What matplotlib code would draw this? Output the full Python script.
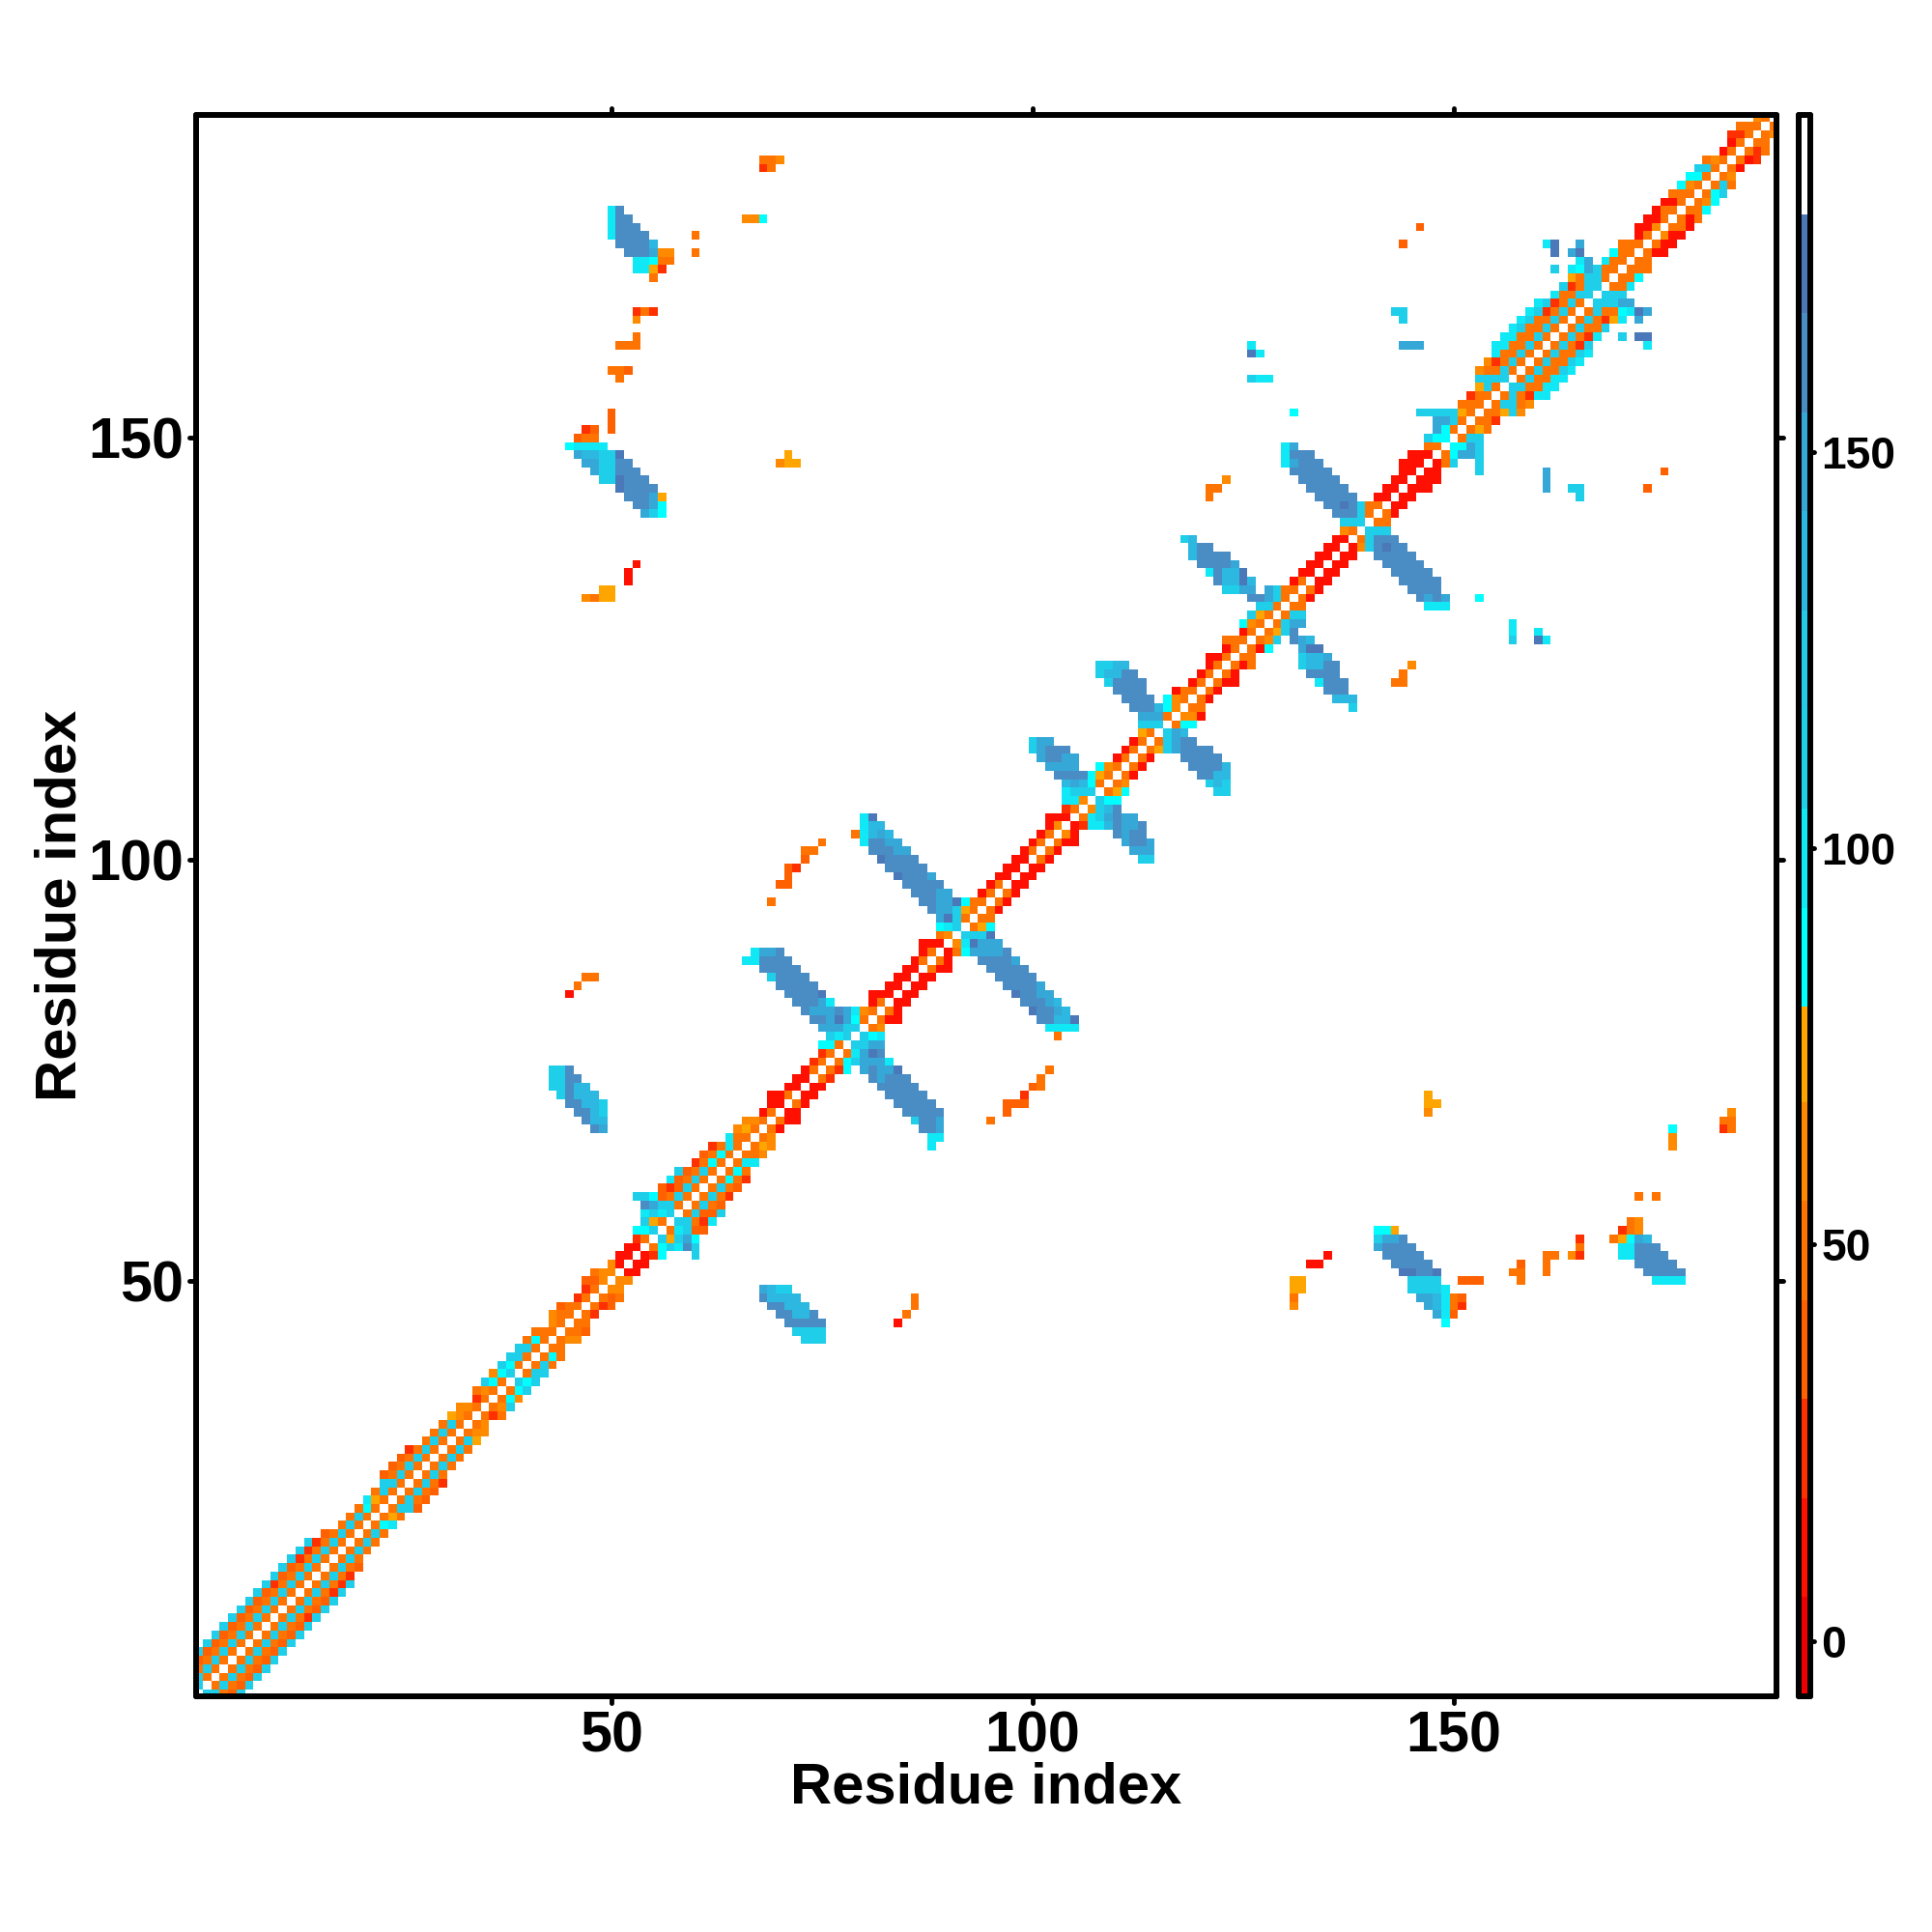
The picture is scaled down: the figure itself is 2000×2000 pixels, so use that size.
from matplotlib.colors import BoundaryNorm, ListedColormap
from matplotlib.markers import MarkerStyle, TICKDOWN, TICKUP, TICKLEFT, TICKRIGHT
import numpy as np
import matplotlib.pyplot as plt

plt.rcParams["font.family"] = ["Liberation Sans", "DejaVu Sans"]
plt.rcParams["font.weight"] = "bold"

residue_count = 188
tick_values = [50, 100, 150]
bar_tick_values = [0, 50, 100, 150]

# Colour bands of the scale, the last one is the white background band.
band_edges = [-7, 5.5, 18, 30.5, 43, 55.5, 68, 80, 92.5, 105, 117.5, 130, 142.5, 155, 167.5, 180, 193]
band_colors = ["#EE0000", "#FF1000", "#FF3000", "#FF6000", "#FF7400", "#FF8A00", "#FFA500", "#00FFFF",
               "#10E8F6", "#1FCFEA", "#24CAE8", "#2CB8E0", "#36A8D8", "#4A8DC5", "#4A78B8", "#FFFFFF"]

# Letter codes used in the rows below and the value each one stands for.
code_values = {"R": 12, "S": 24, "O": 37, "P": 49, "Q": 62, "A": 74, "C": 87, "D": 99,
               "E": 112, "F": 137, "G": 149, "H": 162, "I": 162, "J": 174}

# Cells just left of the diagonal, one string per residue 1..188.
# First letter is residue-1, next is residue-2 and so on, "." means no contact.
band_1_50 = ["", "E", "PE", "PEP", "PEPO", "PEPOE", "PEPOE", "PEPOE", "PEPOE", "PEPOE",
             "PEPOE", "PEPOE", "PEPOE", "PEPSE", "PEPOE", "PEPOE", "PEPSE", "PEPSE", "PEPSE", "PEPO",
             "PEP", "PEP", "PCP", "PAD", "PEP", "PEE", "PEPO", "PEPO", "PEPO", "PEPS",
             "PEP", "PEP", "PEP", "PQA", "PQQ", "PS", "PQP", "PCE", "ECQ", "PCE",
             "PEE", "PEE", "PCP", "PPP", "PQ", "PPQ", "PPO", "PS", "PS", "QOO"]
band_51_100 = ["QQP", "RQ", "RR", "RR", "PS", "ECC", "PAE", "EDED", "PEEGI", "PEPOCEE",
               "PEOSO", "PEPOD", "PEPOE", "PCPS", "PCPO", "PDPS", "PPD", "PAQ", "PQQ", "PR",
               "RR", "PRR", "RR", "RR", "PR", "PS", "PS", "PCC", "EDE", "EEGGG",
               "PCGJGHH", "PQDGHGGGH", "PR", "RRR", "RR", "RR", "RR", "PR", "PR", "RRR",
               "QP", "EEE", "PEJE", "PAEGG", "PPCJGG", "PR", "PR", "RR", "RR", "RR"]
band_101_150 = ["PR", "PR", "PR", "QR", "RRR", "PS", "QDD", "EEED", "PCFGF", "PACIHHH",
                "PQC", "PR", "PR", "PR", "PA", "EEE", "PGGG", "QCFHHH", "PQC", "PPR",
                "PR", "PR", "PR", "PRR", "PR", "PPP", "PR", "PQC", "PAE", "PEE",
                "PEGHH", "PPEG", "PR", "RR", "RR", "RR", "RR", "RR", "PQ", "EEE",
                "PEHHH", "PPEHJHH", "RR", "RR", "RR", "RR", "RRR", "RRR", "PP", "CCE"]
band_151_188 = ["PCG", "PEGG", "PAEEEEE", "PPP", "PPS", "PEA", "EEEE", "PEPPQ", "PEPSQ", "PEPPD",
                "PEPPDD", "PEPPDD", "PEPPED", "PEPPED", "PEPSED", "PEPSED", "EEPPD", "EEPSE", "PEEPA", "PPEGCD",
                "PPD.GD", "PPC...JG", "PPP", "PR", "QRR", "PRR", "PPR", "PRR", "PPP", "PQC",
                "PCC", "PEE", "PQP", "PR", "PR", "PSS", "PPP", "PQ"]

# Off-diagonal patches as (row residue, first column residue, codes).
arm_78 = [(89, 67, "DGGH"), (88, 66, "DDHHHH"), (87, 68, "HHHHH"), (86, 69, "EHHHH"),
          (85, 70, "HHHHH"), (84, 71, "HHHHJ"), (83, 72, "HHHGD")]
arm_91 = [(91, 92, "EEEJ"), (90, 92, "DJGGG"), (89, 92, "CGGGGH"), (88, 94, "HHHHG"),
          (87, 95, "HHHHH"), (86, 96, "HHHHH"), (85, 97, "HHHHG"), (84, 98, "JHHGG"),
          (83, 99, "HHHGF"), (82, 100, "JHHGF"), (81, 101, "HHFFJ"), (80, 102, "DDDD"), (79, 103, "P")]
arm_104 = [(114, 100, "EGG"), (113, 100, "EGHHH"), (112, 101, "GHHGG"), (111, 102, "GGGG")]
arm_115 = [(123, 108, "EEFF"), (122, 108, "EFFHH"), (121, 109, "EHHHH"), (120, 110, "HHHH"), (119, 111, "HHHH")]
arm_128 = [(138, 118, "EF"), (137, 119, "FHH"), (136, 119, "FHHHH"), (135, 120, "HHHHG"),
           (134, 121, "DHFFJ"), (133, 122, "HFFJF"), (132, 123, "EEGG")]
arm_140 = [(149, 130, "DG"), (148, 130, "DHHH"), (147, 130, "DGHHH"), (146, 131, "HHHHH"),
           (145, 132, "HHHHH"), (144, 133, "HHHHH"), (143, 134, "HHHHH")]
blob_172 = [(177, 50, "DH"), (176, 50, "DHH"), (175, 50, "DHHH"), (174, 50, "DHHHH"), (173, 51, "HHHHF"),
            (172, 52, "HHHGQQ"), (171, 53, "DDCPP"), (170, 53, "DDAS"), (169, 55, "P")]
blob_145 = [(149, 45, "CDDDD"), (148, 46, "GFFEEJ"), (147, 47, "GGEEHH"), (146, 48, "GEEHHH"), (145, 49, "EEJHHH"),
            (144, 51, "JHHHH"), (143, 52, "HHHGA"), (142, 53, "HHGC"), (141, 54, "GEC")]
blob_70 = [(49, 68, "GFEE"), (48, 68, "HFFFF"), (47, 69, "HHFFF"), (46, 70, "HHFFH"),
           (45, 71, "HHHHH"), (44, 72, "EEEE"), (43, 73, "EEE")]
spots_far = [(183, 68, "PPQ"), (182, 68, "SP"), (176, 66, "QQC"), (174, 60, "P"), (172, 60, "P"), (165, 53, "SPS"),
             (164, 53, "Q"), (162, 53, "P"), (161, 51, "PPP"), (158, 50, "PPO"), (157, 51, "P"), (153, 50, "O"),
             (152, 50, "O"), (151, 50, "O"), (151, 47, "SO"), (150, 46, "OPP"), (135, 53, "R"), (134, 52, "R"),
             (133, 52, "R"), (132, 49, "AA"), (131, 47, "QPAA"), (148, 71, "A"), (147, 70, "QAA")]
spots_near = [(48, 86, "P"), (47, 86, "P"), (46, 85, "P"), (45, 84, "R"), (75, 102, "P"), (74, 101, "P"),
              (73, 100, "OP"), (72, 99, "S"), (71, 97, "OOO"), (70, 97, "O"), (69, 95, "P"),
              (145, 123, "Q"), (144, 121, "PP"), (143, 121, "P")]
spots_top = [(175, 146, "O"), (173, 144, "O"), (173, 161, "DJ"), (172, 162, "J"), (170, 162, "E"), (173, 165, "G"),
             (165, 143, "EE"), (164, 144, "E"), (161, 144, "GGG"), (161, 126, "D"), (160, 126, "JD"),
             (157, 126, "EDD"), (153, 131, "C")]


# Put one value in both triangles, the map is symmetric.
def set_cell(matrix, row, col, code):
    if code != ".":
        matrix[row - 1, col - 1] = code_values[code]
        matrix[col - 1, row - 1] = code_values[code]


# Build the full matrix from the band strings and the patches.
def build_matrix():
    matrix = np.full((residue_count, residue_count), np.nan)

    band_rows = band_1_50 + band_51_100 + band_101_150 + band_151_188
    for row, codes in enumerate(band_rows, start=1):
        for offset, code in enumerate(codes, start=1):
            set_cell(matrix, row, row - offset, code)

    patches = [arm_78, arm_91, arm_104, arm_115, arm_128, arm_140,
               blob_172, blob_145, blob_70, spots_far, spots_near, spots_top]
    for patch in patches:
        for row, first_col, codes in patch:
            for i, code in enumerate(codes):
                set_cell(matrix, row, first_col + i, code)

    return matrix


# Short ticks with round ends, as in the original plot.
def round_ticks(axis, first_marker, second_marker):
    for tick in axis.get_major_ticks():
        tick.tick1line.set_marker(MarkerStyle(first_marker, capstyle="round"))
        tick.tick2line.set_marker(MarkerStyle(second_marker, capstyle="round"))


def style_spines(ax):
    for spine in ax.spines.values():
        spine.set_linewidth(4.3)
        spine.set_capstyle("round")


cmap = ListedColormap(band_colors)
norm = BoundaryNorm(band_edges, cmap.N)
cell_edges = np.arange(residue_count + 1) + 0.5

fig = plt.figure(figsize=(20, 20), dpi=100)

# Main contact map.
ax = fig.add_axes([203 / 2000, 244 / 2000, 1636 / 2000, 1637 / 2000])
ax.pcolormesh(cell_edges, cell_edges, build_matrix(), cmap=cmap, norm=norm, shading="flat")
ax.set_xlim(0.7, 188.3)
ax.set_ylim(0.7, 188.3)
ax.set_xticks(tick_values)
ax.set_yticks(tick_values)
ax.tick_params(axis="both", top=True, right=True, length=5, width=3.5, labelsize=42.7)
ax.tick_params(axis="x", pad=5.5)
ax.tick_params(axis="y", pad=4.5)
round_ticks(ax.xaxis, TICKDOWN, TICKUP)
round_ticks(ax.yaxis, TICKLEFT, TICKRIGHT)
style_spines(ax)
ax.set_xlabel("Residue index", fontsize=43, fontweight="bold", va="center")
ax.set_ylabel("Residue index", fontsize=43, fontweight="bold", va="center")
ax.xaxis.set_label_coords(0.5, -95 / 1637)
ax.yaxis.set_label_coords(-140 / 1636, 0.5)

# Colour scale on the right.
bar = fig.add_axes([1862 / 2000, 244 / 2000, 12 / 2000, 1637 / 2000])
bar_values = (np.array(band_edges[:-1]) + np.array(band_edges[1:])) / 2
bar.pcolormesh([0, 1], band_edges, bar_values[:, None], cmap=cmap, norm=norm, shading="flat")
bar.set_ylim(-7, 192.5)
bar.set_xticks([])
bar.set_yticks(bar_tick_values)
bar.yaxis.tick_right()
bar.tick_params(axis="y", length=3, width=3.5, labelsize=33.3, pad=5)
round_ticks(bar.yaxis, TICKLEFT, TICKRIGHT)
style_spines(bar)

fig.savefig("out.png", dpi=100)
